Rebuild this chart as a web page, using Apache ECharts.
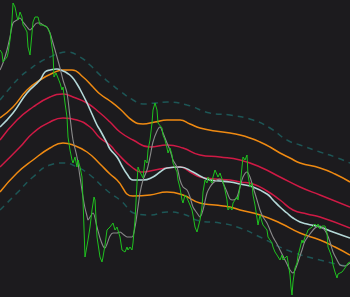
<!DOCTYPE html>
<html><head><meta charset="utf-8">
<script src="https://cdn.jsdelivr.net/npm/echarts@6/dist/echarts.min.js"></script>
<style>html,body{margin:0;padding:0;background:#1c1b1e}#c{width:350px;height:297px}</style>
</head><body><div id="c"></div>
<script>
// [bar index, price]
const price = [[0,247],[2,244],[3,235],[5,237],[7,240],[8,244],[10,257],[12,277],[13,294],[15,290],[17,280],[18,277],[20,285],[22,280],[23,272],[25,269],[27,265],[28,250],[30,242],[32,264],[33,275],[35,280],[38,280],[40,272],[42,270],[43,272],[47,270],[50,264],[52,250],[53,244],[54,220],[56,224],[58,224],[60,214],[62,207],[63,210],[65,194],[67,180],[68,160],[70,147],[72,137],[73,134],[75,140],[77,130],[78,137],[80,130],[82,120],[83,97],[85,40],[86,39],[88,57],[90,70],[92,87],[94,100],[95,97],[97,60],[100,40],[102,35],[103,40],[105,52],[107,67],[110,70],[113,74],[115,67],[117,70],[120,60],[122,47],[125,45],[127,50],[128,47],[130,50],[132,47],[133,54],[135,77],[137,114],[138,130],[140,125],[142,127],[143,119],[145,137],[147,134],[148,147],[150,157],[152,174],[153,187],[155,194],[156,195],[157,187],[158,174],[160,172],[162,169],[163,162],[165,157],[167,149],[168,144],[170,149],[172,142],[173,134],[175,135],[177,125],[178,117],[180,109],[182,97],[183,94],[185,102],[187,99],[188,97],[190,92],[192,87],[193,82],[195,70],[197,65],[198,67],[200,77],[202,90],[203,105],[205,117],[207,114],[208,120],[210,117],[212,114],[213,120],[215,127],[217,127],[218,120],[220,124],[222,122],[223,115],[225,107],[227,97],[228,87],[230,90],[232,87],[233,94],[235,97],[237,100],[238,97],[240,110],[242,130],[243,140],[245,137],[247,142],[248,122],[250,110],[252,114],[253,102],[255,92],[257,79],[258,72],[260,82],[262,75],[263,72],[265,74],[267,67],[268,60],[270,59],[272,54],[273,50],[275,45],[277,42],[278,41],[280,37],[282,42],[283,37],[285,35],[287,41],[288,35],[290,22],[291,10],[292,2],[293,15],[295,29],[297,34],[298,41],[300,49],[302,57],[303,54],[305,60],[307,64],[308,67],[310,69],[312,70],[313,69],[315,73],[317,70],[318,73],[320,68],[322,71],[323,69],[325,71],[327,64],[328,50],[330,45],[332,39],[333,32],[335,25],[337,19],[338,23],[340,21],[342,25],[343,23],[345,29],[347,31],[348,34],[350,35]];
const fastMA = [[0,227],[3,234],[7,247],[10,260],[13,274],[17,277],[20,279],[23,275],[27,270],[30,267],[33,270],[37,274],[40,274],[43,272],[47,270],[50,264],[53,254],[57,240],[60,229],[63,217],[67,204],[70,180],[73,157],[77,140],[80,120],[83,100],[85,89],[87,81],[88,77],[90,80],[93,84],[97,70],[100,59],[103,51],[105,49],[107,53],[110,61],[113,64],[117,64],[120,65],[124,62],[127,60],[132,60],[135,70],[138,90],[140,104],[143,117],[147,127],[150,140],[153,155],[157,166],[160,170],[163,164],[167,154],[170,147],[173,137],[177,130],[180,117],[183,110],[187,107],[190,100],[193,90],[197,84],[200,80],[203,87],[207,104],[210,110],[213,114],[217,117],[220,118],[223,114],[227,105],[230,98],[233,97],[237,100],[240,110],[243,120],[247,125],[250,120],[253,110],[257,97],[260,87],[263,80],[267,74],[270,67],[273,60],[277,53],[280,47],[283,41],[287,33],[290,27],[293,24],[295,27],[298,35],[302,47],[305,56],[310,63],[315,69],[320,71],[323,69],[327,63],[330,55],[333,45],[337,37],[340,32],[345,31],[350,34]];
const slowMA = [[0,170],[13,184],[27,204],[40,217],[45,225],[50,227],[57,228],[63,226],[67,224],[72,220],[77,213],[82,204],[87,194],[92,183],[97,172],[100,167],[107,154],[110,148],[117,140],[122,131],[127,123],[133,117],[143,117],[153,120],[160,125],[167,129],[180,130],[193,125],[200,121],[210,117],[220,116],[230,115],[240,113],[253,110],[267,103],[273,97],[280,90],[287,84],[293,79],[300,75],[307,73],[320,70],[333,65],[350,59]];
const outerUpper = [[0,197],[10,209],[20,220],[30,228],[40,235],[50,240],[60,244],[67,245],[80,240],[90,232],[100,222],[110,214],[120,206],[133,197],[143,193],[155,194],[167,195],[187,192],[210,184],[230,182],[253,177],[270,169],[287,157],[300,152],[320,145],[335,140],[350,134]];
const midUpper = [[0,179],[13,190],[27,207],[40,217],[53,224],[63,227],[72,227],[83,220],[93,210],[100,203],[110,196],[120,188],[133,176],[143,173],[155,175],[167,177],[180,177],[190,173],[200,169],[215,166],[230,164],[240,162],[250,159],[260,155],[270,150],[280,144],[290,139],[300,134],[320,129],[335,123],[350,115]];
const innerUpper = [[0,157],[17,177],[33,190],[50,200],[63,203],[73,200],[87,194],[100,184],[110,175],[120,165],[133,157],[150,150],[167,152],[183,149],[200,142],[220,140],[240,137],[260,130],[280,120],[300,110],[320,102],[350,90]];
const innerLower = [[0,130],[20,150],[33,164],[50,175],[63,179],[77,177],[90,170],[100,159],[110,152],[117,144],[133,129],[143,125],[155,127],[167,129],[180,130],[190,125],[200,120],[215,118],[230,117],[240,115],[253,113],[267,106],[280,97],[293,87],[307,83],[320,80],[350,69]];
const midLower = [[0,105],[17,124],[33,137],[50,149],[63,154],[73,152],[87,145],[100,133],[110,123],[117,117],[133,101],[150,102],[167,105],[183,102],[200,94],[215,92],[230,90],[240,87],[260,82],[280,74],[300,64],[320,57],[335,50],[350,42]];
const outerLower = [[0,87],[17,104],[33,120],[50,132],[63,134],[77,130],[90,122],[103,110],[110,104],[120,97],[137,83],[150,82],[167,85],[183,83],[200,76],[220,74],[240,69],[260,60],[287,47],[320,37],[350,30]];

const chart = echarts.init(document.getElementById('c'), null, {renderer:'canvas'});
function band(data, color, width, dashed, z){
  return {type:'line', data:data, smooth:0.5, symbol:'none', z:z, silent:true,
    lineStyle:{color:color, width:width, type: dashed ? [6,5] : 'solid'}};
}
chart.setOption({
  backgroundColor:'#1c1b1e',
  animation:false,
  grid:{left:0,right:0,top:0,bottom:0},
  xAxis:{type:'value', min:0, max:350, show:false},
  yAxis:{type:'value', min:0, max:297, show:false},
  series:[
    band(outerUpper,'#1d5656',1.5,true,1),
    band(outerLower,'#1d5656',1.5,true,1),
    band(midUpper,'#ef8a12',1.5,false,2),
    band(midLower,'#ef8a12',1.5,false,2),
    band(innerUpper,'#cf1a45',1.5,false,2),
    band(innerLower,'#cf1a45',1.5,false,2),
    band(slowMA,'#b4d8d8',1.6,false,3),
    {type:'line', data:fastMA, smooth:0.3, symbol:'none', z:4, lineStyle:{color:'#8a8a8a', width:1.1}},
    {type:'line', data:price, symbol:'none', z:5, lineStyle:{color:'#1fc21f', width:1}}
  ]
});
</script></body></html>
